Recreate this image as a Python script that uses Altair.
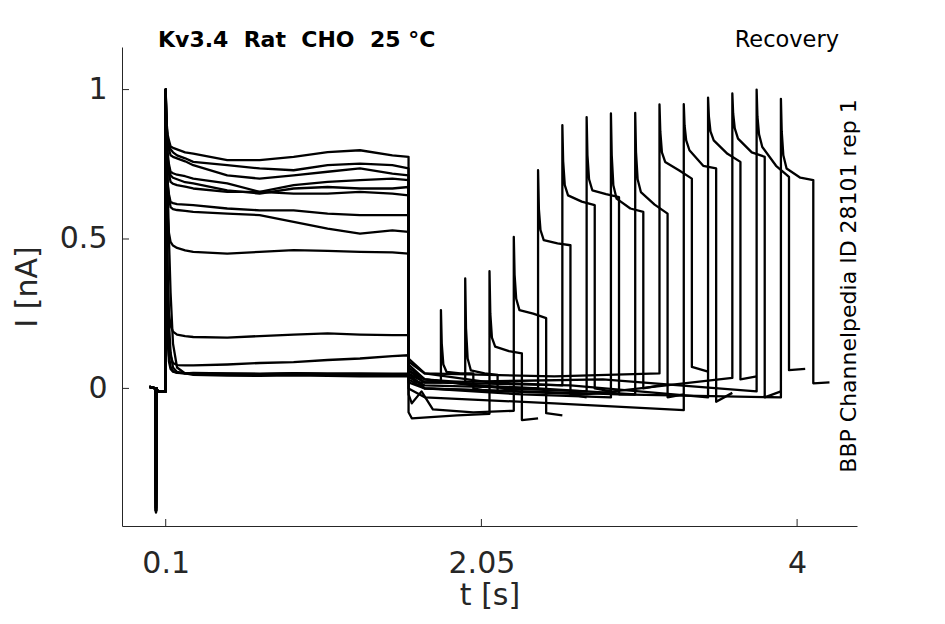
import pandas as pd
import altair as alt

# recovery protocol: 15 sweeps, conditioning pulse 0.1-1.6 s, test pulse (0.2 s) after a growing gap
sweeps = list(range(1, 16))
onset2 = [1.80, 1.95, 2.10, 2.25, 2.40, 2.55, 2.70, 2.85, 3.00, 3.15, 3.30, 3.45, 3.60, 3.75, 3.90]

# holding level and capacitive artefact before the first pulse
hold_t = [0.0, 0.037, 0.040, 0.043, 0.05, 0.0995]
hold_i = [0.005, 0.0, None, 0.0, -0.01, -0.01]
spike_i = [-0.41, -0.40, -0.415, -0.405, -0.41, -0.40, -0.413, -0.408, -0.41, -0.402, -0.415, -0.41, -0.405, -0.41, -0.412]

# conditioning pulse, sampled on one time grid
p1_t = [0.1, 0.103, 0.107, 0.112, 0.12, 0.13, 0.145, 0.17, 0.22, 0.27, 0.48, 0.68, 0.89, 1.1, 1.3, 1.5, 1.6]
p1_i = {
    1: [1.0, 0.60, 0.32, 0.16, 0.09, 0.065, 0.056, 0.052, 0.05, 0.05, 0.048, 0.047, 0.048, 0.047, 0.046, 0.047, 0.047],
    2: [1.0, 0.70, 0.45, 0.28, 0.16, 0.11, 0.085, 0.078, 0.077, 0.077, 0.08, 0.085, 0.088, 0.095, 0.1, 0.108, 0.111],
    3: [1.0, 0.78, 0.58, 0.40, 0.22, 0.12, 0.07, 0.055, 0.05, 0.05, 0.049, 0.048, 0.05, 0.048, 0.046, 0.045, 0.045],
    4: [1.0, 0.90, 0.80, 0.68, 0.50, 0.32, 0.15, 0.07, 0.05, 0.045, 0.043, 0.042, 0.044, 0.042, 0.040, 0.041, 0.040],
    5: [1.0, 0.75, 0.52, 0.36, 0.25, 0.21, 0.19, 0.18, 0.175, 0.172, 0.17, 0.175, 0.18, 0.184, 0.18, 0.178, 0.178],
    6: [1.0, 0.65, 0.38, 0.20, 0.11, 0.072, 0.058, 0.053, 0.05, 0.052, 0.05, 0.049, 0.051, 0.05, 0.05, 0.049, 0.05],
    7: [1.0, 0.82, 0.68, 0.58, 0.52, 0.49, 0.478, 0.47, 0.462, 0.457, 0.451, 0.457, 0.463, 0.46, 0.457, 0.455, 0.451],
    8: [0.98, 0.85, 0.75, 0.68, 0.64, 0.607, 0.60, 0.597, 0.594, 0.591, 0.585, 0.58, 0.557, 0.535, 0.518, 0.529, 0.524],
    9: [1.0, 0.86, 0.76, 0.69, 0.65, 0.624, 0.62, 0.617, 0.615, 0.613, 0.602, 0.596, 0.596, 0.585, 0.58, 0.58, 0.58],
    10: [0.99, 0.88, 0.80, 0.75, 0.72, 0.691, 0.685, 0.68, 0.675, 0.669, 0.658, 0.658, 0.652, 0.652, 0.658, 0.652, 0.646],
    11: [1.0, 0.89, 0.82, 0.77, 0.74, 0.713, 0.705, 0.70, 0.69, 0.686, 0.663, 0.652, 0.669, 0.674, 0.669, 0.669, 0.674],
    12: [0.99, 0.90, 0.84, 0.79, 0.75, 0.725, 0.72, 0.715, 0.71, 0.702, 0.686, 0.658, 0.68, 0.691, 0.697, 0.702, 0.697],
    13: [1.0, 0.91, 0.86, 0.83, 0.80, 0.78, 0.775, 0.77, 0.76, 0.747, 0.713, 0.702, 0.713, 0.725, 0.736, 0.719, 0.713],
    14: [1.0, 0.92, 0.87, 0.84, 0.82, 0.80, 0.79, 0.78, 0.77, 0.758, 0.747, 0.736, 0.73, 0.747, 0.752, 0.747, 0.736],
    15: [1.0, 0.93, 0.88, 0.85, 0.83, 0.81, 0.805, 0.80, 0.79, 0.786, 0.764, 0.764, 0.775, 0.791, 0.797, 0.78, 0.775],
}

# gap between the pulses (time, current)
gap_t = {
    1: [1.6, 1.65, 1.8],
    2: [1.6, 1.7, 1.95],
    3: [1.6, 1.62, 1.9, 2.1],
    4: [1.6, 1.62, 1.65, 1.68, 1.75, 2.0, 2.25],
    5: [1.6, 1.7, 2.0, 2.4],
    6: [1.6, 1.7, 2.1, 2.55],
    7: [1.6, 1.7, 2.2, 2.7],
    8: [1.6, 1.7, 2.3, 2.85],
    9: [1.6, 1.7, 2.4, 3.0],
    10: [1.6, 1.7, 2.5, 3.15],
    11: [1.6, 1.7, 2.5, 3.3],
    12: [1.6, 1.7, 2.6, 3.45],
    13: [1.6, 1.7, 2.7, 3.6],
    14: [1.6, 1.7, 2.8, 3.75],
    15: [1.6, 1.7, 2.9, 3.9],
}
gap_i = {
    1: [0.04, 0.02, 0.02],
    2: [0.06, 0.03, 0.02],
    3: [-0.08, -0.1, -0.09, -0.085],
    4: [-0.02, -0.05, -0.03, -0.01, -0.07, -0.08, -0.075],
    5: [0.07, 0.03, 0.01, 0.0],
    6: [0.10, 0.05, 0.02, 0.01],
    7: [0.08, 0.03, 0.0, -0.01],
    8: [0.05, 0.0, -0.02, -0.03],
    9: [0.04, 0.01, 0.0, -0.02],
    10: [0.09, 0.05, 0.04, 0.05],
    11: [0.0, -0.03, -0.05, -0.073],
    12: [0.06, 0.02, 0.01, -0.03],
    13: [0.03, 0.0, -0.02, 0.035],
    14: [0.05, 0.02, 0.03, -0.01],
    15: [0.02, 0.0, -0.02, -0.03],
}

# test pulse: delays after onset and current per sweep
p2_dt = [0.0, 0.005, 0.015, 0.035, 0.12, 0.2]
p2_i = {
    1: [0.262, 0.15, 0.08, 0.055, 0.05, 0.05],
    2: [0.368, 0.20, 0.10, 0.06, 0.05, 0.045],
    3: [0.392, 0.25, 0.17, 0.14, 0.125, 0.117],
    4: [0.507, 0.38, 0.30, 0.262, 0.25, 0.235],
    5: [0.730, 0.60, 0.53, 0.496, 0.485, 0.479],
    6: [0.881, 0.76, 0.68, 0.646, 0.625, 0.613],
    7: [0.908, 0.78, 0.70, 0.663, 0.65, 0.64],
    8: [0.920, 0.78, 0.68, 0.635, 0.602, 0.591],
    9: [0.922, 0.79, 0.70, 0.657, 0.615, 0.585],
    10: [0.950, 0.86, 0.79, 0.758, 0.73, 0.702],
    11: [0.951, 0.88, 0.83, 0.797, 0.745, 0.736],
    12: [0.973, 0.91, 0.86, 0.83, 0.785, 0.758],
    13: [0.987, 0.92, 0.87, 0.836, 0.79, 0.775],
    14: [1.000, 0.91, 0.85, 0.808, 0.745, 0.708],
    15: [0.969, 0.86, 0.78, 0.736, 0.705, 0.697],
}
# after the test pulse: 0.2 s and 0.3 s after onset
after_dt = [0.2, 0.3]
after_i = {
    1: [0.0, -0.01], 2: [-0.01, 0.0], 3: [-0.106, -0.1], 4: [-0.083, -0.09], 5: [-0.02, -0.03],
    6: [0.0, -0.01], 7: [-0.02, -0.02], 8: [0.0, 0.01], 9: [-0.03, -0.02], 10: [0.072, 0.056],
    11: [-0.045, -0.015], 12: [0.03, 0.04], 13: [-0.03, -0.01], 14: [0.061, 0.065], 15: [0.017, 0.02],
}

x_ticks = [0.1, 2.05, 4]
y_ticks = [0, 0.5, 1]
title_txt = ['Kv3.4\u00a0 Rat\u00a0 CHO\u00a0 25 \u00b0C']
proto_txt = ['Recovery']
id_txt = ['BBP Channelpedia ID 28101 rep 1']

rows = []
for k, s in enumerate(sweeps):
    on = onset2[k]
    hi = [spike_i[k] if v is None else v for v in hold_i]
    ts = hold_t + p1_t + gap_t[s] + [on + d for d in p2_dt] + [on + d for d in after_dt]
    vs = hi + p1_i[s] + gap_i[s] + p2_i[s] + after_i[s]
    for j, (t, v) in enumerate(zip(ts, vs)):
        rows.append({'sweep': s, 'seq': j, 't': t, 'I': v})
df = pd.DataFrame(rows)

W, H = 735, 479
ink = '#262626'
font = 'DejaVu Sans'

lines = alt.Chart(df).mark_line(color='black', strokeWidth=2.3, strokeJoin='round').encode(
    x=alt.X('t:Q', scale=alt.Scale(domain=[-0.17, 4.37], nice=False, zero=False),
            axis=alt.Axis(values=x_ticks, format='.3~g', title='t [s]', ticks=False, grid=False,
                          labelPadding=22, titlePadding=2)),
    y=alt.Y('I:Q', scale=alt.Scale(domain=[-0.4605, 1.1425], nice=False, zero=False),
            axis=alt.Axis(values=y_ticks, format='.2~g', title='I [nA]', ticks=False, grid=False,
                          labelPadding=15, titlePadding=17)),
    detail='sweep:N',
    order='seq:Q'
)

# inward tick marks
xtick = alt.Chart(pd.DataFrame({'t': x_ticks})).mark_rule(color=ink, strokeWidth=1).encode(
    x='t:Q', y=alt.value(H), y2=alt.value(H - 7))
ytick = alt.Chart(pd.DataFrame({'I': y_ticks})).mark_rule(color=ink, strokeWidth=1).encode(
    y='I:Q', x=alt.value(0), x2=alt.value(7))

title = alt.Chart(pd.DataFrame({'s': title_txt})).mark_text(
    font=font, fontSize=22, fontWeight='bold', align='left', baseline='alphabetic', color='black'
).encode(text='s:N', x=alt.value(36), y=alt.value(0))
proto = alt.Chart(pd.DataFrame({'s': proto_txt})).mark_text(
    font=font, fontSize=22.5, align='right', baseline='alphabetic', color='black'
).encode(text='s:N', x=alt.value(717), y=alt.value(0))
ident = alt.Chart(pd.DataFrame({'s': id_txt})).mark_text(
    font=font, fontSize=22, align='center', baseline='alphabetic', angle=270, color='black'
).encode(text='s:N', x=alt.value(734), y=alt.value(239))

chart = alt.layer(lines, xtick, ytick, title, proto, ident).properties(
    width=W, height=H,
    autosize=alt.AutoSizeParams(type='none'),
    padding={'left': 114, 'top': 39, 'right': 80, 'bottom': 90}
).configure_view(stroke=None).configure_axis(
    domainColor=ink, domainWidth=1,
    labelFont=font, labelFontSize=30, labelColor=ink,
    titleFont=font, titleFontSize=30, titleFontWeight='normal', titleColor=ink
)

chart.save('out.html', embed_options={'renderer': 'svg', 'actions': False})
